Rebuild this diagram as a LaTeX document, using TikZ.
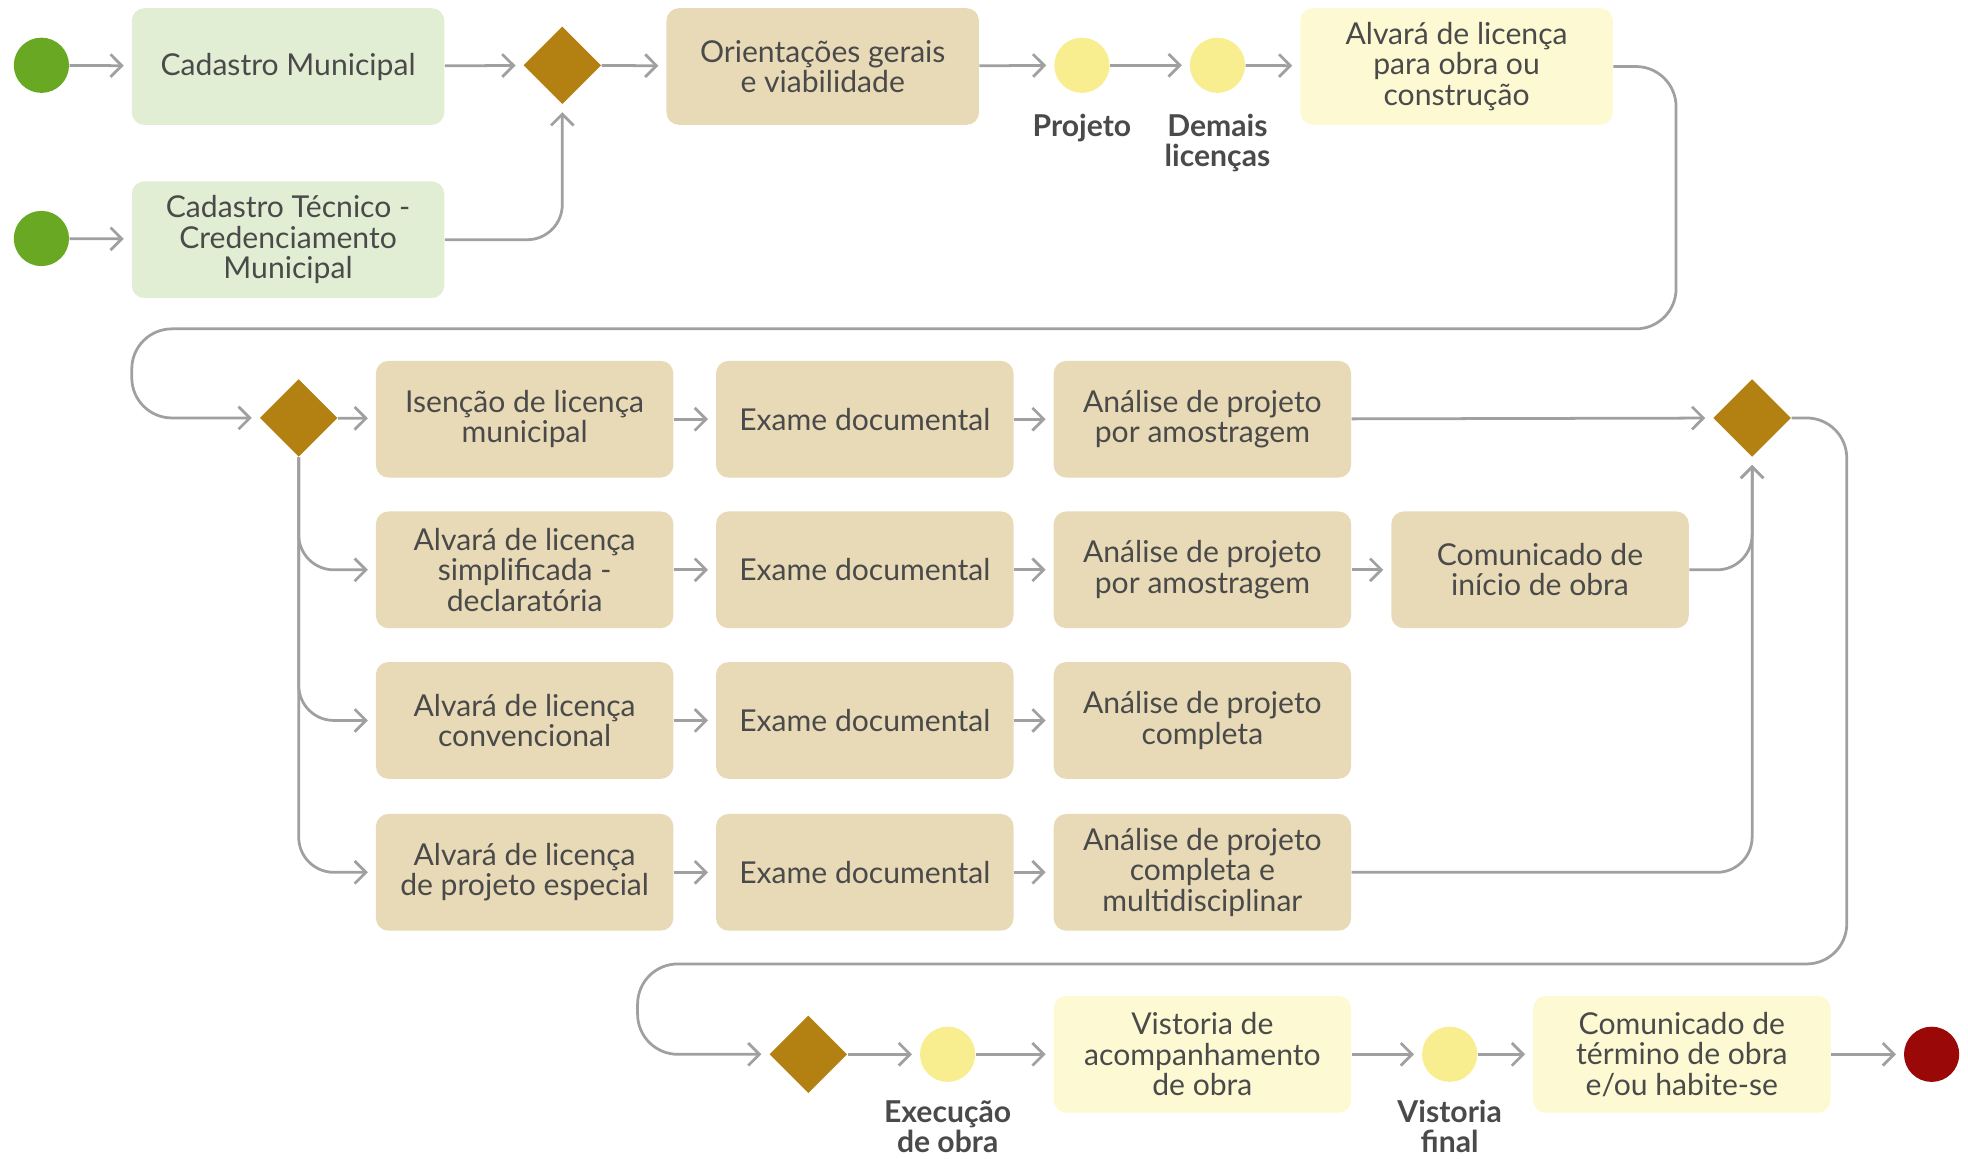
\documentclass[tikz,border=0pt]{standalone}
\usepackage{fontspec}
\setmainfont{Lato}
\usetikzlibrary{shapes.geometric,arrows.meta}

\definecolor{txt}{RGB}{74,74,74}
\definecolor{lgreen}{RGB}{226,238,212}
\definecolor{tanfill}{RGB}{232,218,182}
\definecolor{lyellow}{RGB}{253,249,211}
\definecolor{startgreen}{RGB}{104,168,34}
\definecolor{evtyellow}{RGB}{249,238,143}
\definecolor{gold}{RGB}{179,128,18}
\definecolor{endred}{RGB}{154,8,8}
\definecolor{linegray}{RGB}{160,160,160}

\begin{document}
\begin{tikzpicture}[x=0.5pt,y=-0.5pt,
  box/.style={rectangle, rounded corners=5pt, minimum width=118.5pt,
    minimum height=46.5pt, inner sep=0pt, align=center, text=txt,
    font=\fontsize{12}{12.1}\selectfont},
  greenbox/.style={box, fill=lgreen, minimum width=124.5pt},
  tanbox/.style={box, fill=tanfill},
  ylbox/.style={box, fill=lyellow},
  startev/.style={circle, fill=startgreen, minimum size=22pt, inner sep=0pt},
  midev/.style={circle, fill=evtyellow, minimum size=22pt, inner sep=0pt},
  endev/.style={circle, fill=endred, minimum size=22pt, inner sep=0pt},
  gate/.style={diamond, fill=gold, minimum width=31pt, minimum height=31pt,
    inner sep=0pt},
  evlabel/.style={align=center, text=txt,
    font=\fontsize{12}{11.8}\selectfont\bfseries},
  flow/.style={draw=linegray, line width=1.1pt,
    -{Straight Barb[length=4.5pt,width=9pt]}, shorten >=3pt}
]
\useasboundingbox (0,0) rectangle (1568,923);

% registration and first gateway
\node[startev] (s1) at (33,52) {};
\node[startev] (s2) at (33,190) {};
\node[greenbox] (cm) at (229.5,53) {Cadastro Municipal};
\node[greenbox] (ct) at (229.5,191) {Cadastro Técnico -\\Credenciamento\\Municipal};
\node[gate] (g1) at (448,52) {};
\node[tanbox, minimum width=124.5pt] (ori) at (655.5,53) {Orientações gerais\\e viabilidade};
\node[midev] (proj) at (862,52) {};
\node[midev] (dem) at (970,52) {};
\node[evlabel] (projl) at (862,102) {Projeto};
\node[evlabel] (deml) at (970,114) {Demais\\licenças};
\node[ylbox, minimum width=124.5pt] (alv) at (1160.5,53) {Alvará de licença\\para obra ou\\construção};

\draw[flow] (s1) -- (cm);
\draw[flow] (s2) -- (ct);
\draw[flow] (cm) -- (g1);
\draw[flow, rounded corners=14pt] (ct.east) -| (g1.south);
\draw[flow] (g1) -- (ori);
\draw[flow] (ori) -- (proj);
\draw[flow] (proj) -- (dem);
\draw[flow] (dem) -- (alv);

% licensing paths
\node[gate] (g2) at (238,333) {};
\node[gate] (g3) at (1396,333) {};

\node[tanbox] (a1) at (418,334) {Isenção de licença\\municipal};
\node[tanbox] (a2) at (689,334) {Exame documental};
\node[tanbox] (a3) at (958,334) {Análise de projeto\\por amostragem};

\node[tanbox] (b1) at (418,454) {Alvará de licença\\simplificada -\\declaratória};
\node[tanbox] (b2) at (689,454) {Exame documental};
\node[tanbox] (b3) at (958,454) {Análise de projeto\\por amostragem};
\node[tanbox] (b4) at (1227,454) {Comunicado de\\início de obra};

\node[tanbox] (c1) at (418,574) {Alvará de licença\\convencional};
\node[tanbox] (c2) at (689,574) {Exame documental};
\node[tanbox] (c3) at (958,574) {Análise de projeto\\completa};

\node[tanbox] (d1) at (418,695) {Alvará de licença\\de projeto especial};
\node[tanbox] (d2) at (689,695) {Exame documental};
\node[tanbox] (d3) at (958,695) {Análise de projeto\\completa e\\multidisciplinar};

\draw[flow, rounded corners=16pt] (alv.east) -- ++(50,0) |- (105,262) |- (g2.west);

\draw[flow] (g2) -- (a1);
\draw[flow, rounded corners=14pt] (g2.south) |- (b1.west);
\draw[flow, rounded corners=14pt] (g2.south) |- (c1.west);
\draw[flow, rounded corners=14pt] (g2.south) |- (d1.west);

\draw[flow] (a1) -- (a2);
\draw[flow] (a2) -- (a3);
\draw[flow] (b1) -- (b2);
\draw[flow] (b2) -- (b3);
\draw[flow] (b3) -- (b4);
\draw[flow] (c1) -- (c2);
\draw[flow] (c2) -- (c3);
\draw[flow] (d1) -- (d2);
\draw[flow] (d2) -- (d3);

\draw[flow] (a3) -- (g3);
\draw[flow, rounded corners=14pt] (b4.east) -| (g3.south);
\draw[flow, rounded corners=14pt] (d3.east) -| (g3.south);

% construction and completion
\node[gate] (g4) at (644,840) {};
\node[midev] (exe) at (755,840) {};
\node[evlabel] (exel) at (755,897.5) {Execução\\de obra};
\node[ylbox] (vis) at (958,840) {Vistoria de\\acompanhamento\\de obra};
\node[midev] (vfin) at (1155,840) {};
\node[evlabel] (vfinl) at (1155,897.5) {Vistoria\\final};
\node[ylbox] (term) at (1340,840) {Comunicado de\\término de obra\\e/ou habite-se};
\node[endev] (fim) at (1539,840) {};

\draw[flow, rounded corners=16pt] (g3.east) -- ++(44,0) |- (508,768) |- (g4.west);
\draw[flow] (g4) -- (exe);
\draw[flow] (exe) -- (vis);
\draw[flow] (vis) -- (vfin);
\draw[flow] (vfin) -- (term);
\draw[flow] (term) -- (fim);
\end{tikzpicture}
\end{document}
